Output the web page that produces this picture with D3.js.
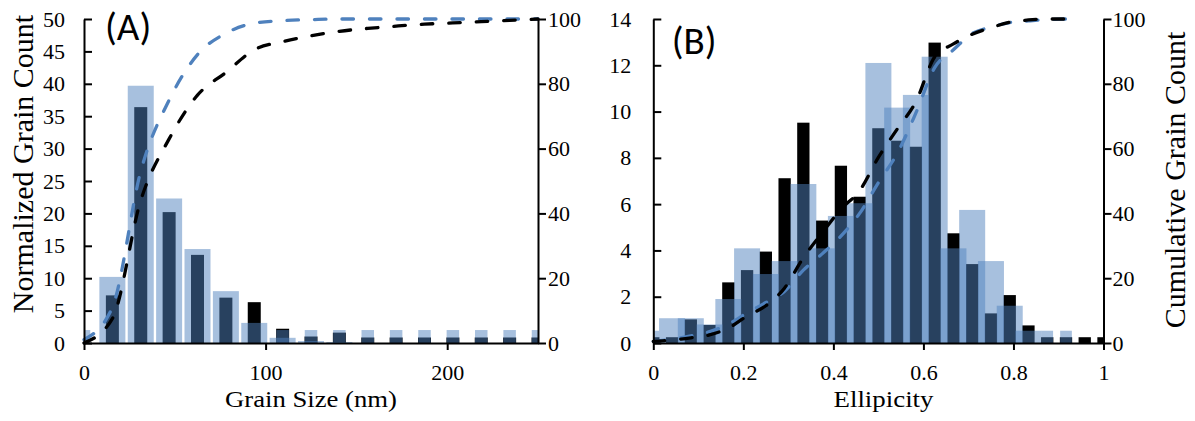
<!DOCTYPE html>
<html><head><meta charset="utf-8">
<script src="https://cdn.jsdelivr.net/npm/d3@7"></script>
<style>body{margin:0;background:#fff}</style>
</head><body>
<svg id="c" width="1195" height="421"></svg>
<script>
// ---------- Panel A : grain size ----------
const sizeBins = [0, 15.625, 31.25, 46.875, 62.5, 78.125, 93.75, 109.375, 125, 140.625, 156.25, 171.875, 187.5, 203.125, 218.75, 234.375, 250];
const sizeBlack = [0, 7.35, 36.4, 20.2, 13.6, 7.0, 6.3, 2.2, 1.0, 1.6, 0.85, 0.85, 0.85, 0.85, 0.85, 0.85, 0.85];
const sizeBlueWide = [0, 10.2, 39.7, 22.3, 14.5, 8.0, 3.1, 0.8, 0.3, 0.15, 0, 0, 0, 0, 0, 0, 0];
const sizeBlueNarrow = [2.0, 0, 0, 0, 0, 0, 0, 2.0, 2.0, 2.0, 2.0, 2.0, 2.0, 2.0, 2.0, 2.0, 2.0];
const sizeCumBlue = [1, 11, 53, 75, 89, 95.6, 98.7, 99.5, 99.8, 100, 100, 100, 100, 100, 100, 100, 100];
const sizeCumBlack = [0, 7.5, 44, 63, 76.5, 83.5, 90.5, 93, 94.8, 96.2, 97.1, 97.8, 98.4, 98.8, 99.2, 99.6, 100];
const sizeXTicks = [0, 100, 200];
const sizeYTicks = [0, 5, 10, 15, 20, 25, 30, 35, 40, 45, 50];

// ---------- Panel B : ellipticity ----------
const ellBins = [0, 0.0417, 0.0833, 0.125, 0.1667, 0.2083, 0.25, 0.2917, 0.3333, 0.375, 0.4167, 0.4583, 0.5, 0.5417, 0.5833, 0.625, 0.6667, 0.7083, 0.75, 0.7917, 0.8333, 0.875, 0.9167, 0.9583, 1];
const ellBlack = [0.25, 0.25, 1.02, 0.78, 2.62, 3.15, 3.95, 7.12, 9.52, 5.29, 7.66, 6.32, 9.28, 8.74, 8.48, 12.98, 4.74, 3.41, 1.28, 2.07, 0.76, 0.25, 0.25, 0.25, 0.25];
const ellBlueWide = [0, 1.07, 1.07, 0.8, 1.9, 4.09, 2.98, 3.54, 6.87, 4.09, 5.49, 6.04, 12.1, 10.17, 10.72, 12.37, 4.09, 5.75, 3.54, 1.61, 0.53, 0, 0, 0, 0];
const ellBlueNarrow = [0.53, 0, 0, 0, 0, 0, 0, 0, 0, 0, 0, 0, 0, 0, 0, 0, 0, 0, 0, 0, 0, 0.53, 0.53, 0, 0];
const ellCumBlue = [0.5, 1.2, 2.2, 3.5, 5.8, 9.3, 12.5, 16, 22.5, 27.5, 33, 40, 49.5, 58.5, 71, 85, 90.5, 95.5, 97.5, 98.9, 99.4, 99.8, 100];
const ellCumBlack = [0.5, 0.9, 1.6, 2.5, 4.6, 8.3, 11.5, 17, 26.3, 34, 41.3, 47, 57.3, 66, 74.5, 88.3, 92.3, 95.3, 97.3, 99, 99.7, 100, 100];
const ellXTicks = [0, 0.2, 0.4, 0.6, 0.8, 1];
const ellXTickLabels = ["0", "0.2", "0.4", "0.6", "0.8", "1"];
const ellYTicks = [0, 2, 4, 6, 8, 10, 12, 14];

const cumTicks = [0, 20, 40, 60, 80, 100];

const BLUE = "#4f81bd";
const SERIF = "Liberation Serif";
const svg = d3.select("#c");

function panel(o) {
  const x = d3.scaleLinear().domain(o.xDomain).range([o.left, o.right]);
  const y = d3.scaleLinear().domain(o.yDomain).range([343, 19]);
  const y2 = d3.scaleLinear().domain([0, 100]).range([343, 19]);
  const g = svg.append("g");
  const cid = "clip" + o.id;
  svg.append("clipPath").attr("id", cid).append("rect")
    .attr("x", o.left).attr("y", 0).attr("width", o.right - o.left).attr("height", 343);
  const bars = g.append("g").attr("clip-path", `url(#${cid})`);

  function drawBars(vals, w, fill, op) {
    bars.append("g").selectAll("rect")
      .data(o.bins.map((b, i) => ({ b, v: vals[i] })).filter(d => d.v > 0))
      .join("rect")
      .attr("x", d => x(d.b) - w / 2)
      .attr("y", d => y(d.v))
      .attr("width", w)
      .attr("height", d => y(0) - y(d.v))
      .attr("fill", fill)
      .attr("fill-opacity", op);
  }
  drawBars(o.black, o.blackW, "#000", 1);
  drawBars(o.blueWide, o.wideW, BLUE, 0.5);
  drawBars(o.blueNarrow, o.narrowW, BLUE, 0.5);

  const line = d3.line()
    .x((d, i) => x(o.bins[i]))
    .y(d => y2(d))
    .curve(d3.curveMonotoneX);
  g.append("path").datum(o.cumBlue).attr("d", line)
    .attr("fill", "none").attr("stroke", BLUE).attr("stroke-width", 3.3)
    .attr("stroke-dasharray", "11.5,16").attr("stroke-linecap", "round");
  g.append("path").datum(o.cumBlack).attr("d", line)
    .attr("fill", "none").attr("stroke", "#000").attr("stroke-width", 3.3)
    .attr("stroke-dasharray", "11.5,16").attr("stroke-linecap", "round");

  const styleAxis = sel => {
    sel.attr("font-family", null).attr("font-size", null);
    sel.selectAll("path.domain").attr("stroke", "#000").attr("stroke-width", 2);
    sel.selectAll(".tick line").attr("stroke", "#000").attr("stroke-width", 2);
    sel.selectAll("text").style("font-family", SERIF).style("font-size", "22px").attr("fill", "#000");
  };
  const xa = g.append("g").attr("transform", "translate(0,343)")
    .call(d3.axisBottom(x).tickValues(o.xTicks).tickFormat((d, i) => o.xTickLabels[i])
      .tickSizeInner(7).tickSizeOuter(0).tickPadding(14.4));
  styleAxis(xa);
  const ya = g.append("g").attr("transform", `translate(${o.left},0)`)
    .call(d3.axisLeft(y).tickValues(o.yTicks).tickSizeInner(-8).tickSizeOuter(0).tickPadding(o.leftPad));
  styleAxis(ya);
  const ya2 = g.append("g").attr("transform", `translate(${o.right},0)`)
    .call(d3.axisRight(y2).tickValues(cumTicks).tickSizeInner(8).tickSizeOuter(0).tickPadding(o.rightPad));
  styleAxis(ya2);

  g.append("text").attr("x", o.titleX).attr("y", 407).attr("text-anchor", "middle")
    .style("font-family", SERIF).style("font-size", "23px")
    .attr("textLength", o.titleLen).attr("lengthAdjust", "spacingAndGlyphs")
    .text(o.xTitle);
  g.append("text").attr("x", o.left + o.tagDX).attr("y", o.tagY)
    .style("font-family", "Carlito").style("font-size", "39px")
    .text(o.tag);
}

panel({
  id: "A", left: 84, right: 538, xDomain: [0, 250], yDomain: [0, 50],
  bins: sizeBins, black: sizeBlack, blueWide: sizeBlueWide, blueNarrow: sizeBlueNarrow,
  cumBlue: sizeCumBlue, cumBlack: sizeCumBlack,
  blackW: 13, wideW: 26, narrowW: 12.5,
  xTicks: sizeXTicks, xTickLabels: sizeXTicks.map(String), yTicks: sizeYTicks,
  leftPad: 19, rightPad: 2,
  xTitle: "Grain Size (nm)", titleX: 311, titleLen: 172,
  tag: "(A)", tagDX: 21, tagY: 40
});
panel({
  id: "B", left: 653.3, right: 1103.5, xDomain: [0, 1], yDomain: [0, 14],
  bins: ellBins, black: ellBlack, blueWide: ellBlueWide, blueNarrow: ellBlueNarrow,
  cumBlue: ellCumBlue, cumBlack: ellCumBlack,
  blackW: 12.3, wideW: 26, narrowW: 11.7,
  xTicks: ellXTicks, xTickLabels: ellXTickLabels, yTicks: ellYTicks,
  leftPad: 22, rightPad: 1,
  xTitle: "Ellipicity", titleX: 883.5, titleLen: 100,
  tag: "(B)", tagDX: 18.5, tagY: 54
});

svg.append("text").attr("transform", "translate(33,164) rotate(-90)")
  .attr("text-anchor", "middle").style("font-family", SERIF).style("font-size", "30px")
  .text("Normalized Grain Count");
svg.append("text").attr("transform", "translate(1185,180) rotate(-90)")
  .attr("text-anchor", "middle").style("font-family", SERIF).style("font-size", "30px")
  .text("Cumulative Grain Count");
</script>
</body></html>
